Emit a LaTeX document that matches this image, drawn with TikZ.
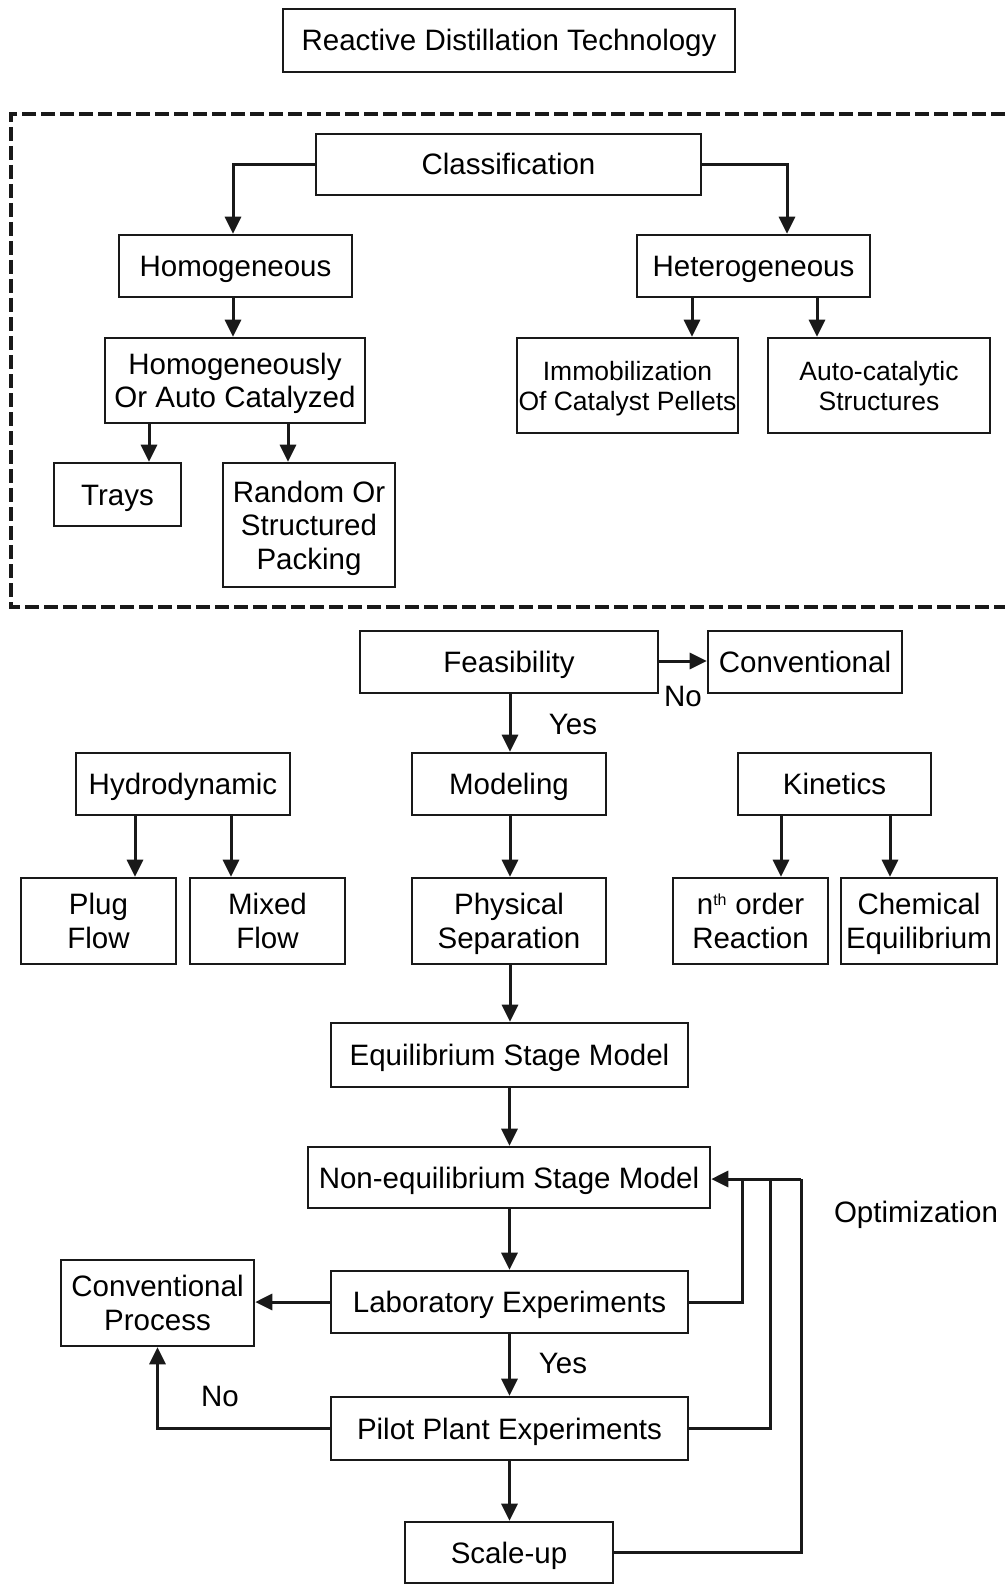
\documentclass[tikz,border=0pt]{standalone}
\usepackage{fontspec}
\setmainfont{Liberation Sans}
\usetikzlibrary{arrows.meta}
\tikzset{
  box/.style={draw=black!90, line width=2.6pt, inner sep=0pt, align=center,
    font=\fontsize{29.5}{33.5}\selectfont, fill=white, text height=21pt, text depth=0pt},
  two/.style={text height=54.5pt},
  three/.style={text height=88pt},
  smallbox/.style={box, font=\fontsize{26.5}{30}\selectfont, text height=49pt, text depth=0pt},
  conn/.style={line width=3pt, draw=black!90},
  arr/.style={conn, -{Triangle[length=17pt,width=16pt]}},
  lbl/.style={font=\fontsize{29.5}{33.5}\selectfont, inner sep=0pt, text height=21pt, text depth=0pt},
  frame/.style={line width=3.2pt, draw=black!90, dash pattern=on 14pt off 5pt}
}
\begin{document}
\begin{tikzpicture}[x=1pt,y=-1pt]
\useasboundingbox (0,0) rectangle (1005,1586);
\fill[white] (0,0) rectangle (1005,1586);
% dashed frame (open at right)
\draw[frame] (1005,114) -- (11,114) -- (11,607) -- (1005,607);
% nodes
\node[box, minimum width=452, minimum height=63] (title) at (509,40.5) {Reactive Distillation Technology};
\node[box, minimum width=385, minimum height=61] (cls) at (508.5,164.5) {Classification};
\node[box, minimum width=233, minimum height=62] (hom) at (235.5,266) {Homogeneous};
\node[box, minimum width=233, minimum height=62] (het) at (753.5,266) {Heterogeneous};
\node[box, two, minimum width=260, minimum height=85] (hoac) at (235,380.5) {Homogeneously\\Or Auto Catalyzed};
\node[smallbox, minimum width=221, minimum height=95] (imm) at (627.5,385.5) {Immobilization\\Of Catalyst Pellets};
\node[smallbox, minimum width=222, minimum height=95] (auto) at (879,385.5) {Auto-catalytic\\Structures};
\node[box, minimum width=127, minimum height=63] (trays) at (117.5,494.5) {Trays};
\node[box, three, minimum width=172, minimum height=124] (rand) at (309,525) {Random Or\\Structured\\Packing};
\node[box, minimum width=298, minimum height=62] (feas) at (509,662) {Feasibility};
\node[box, minimum width=194, minimum height=62] (conv) at (805,662) {Conventional};
\node[box, minimum width=214, minimum height=62] (hydro) at (183,784) {Hydrodynamic};
\node[box, minimum width=194, minimum height=62] (model) at (509,784) {Modeling};
\node[box, minimum width=193, minimum height=62] (kin) at (834.5,784) {Kinetics};
\node[box, two, minimum width=155, minimum height=86] (plug) at (98.5,921) {Plug\\Flow};
\node[box, two, minimum width=155, minimum height=86] (mixed) at (267.5,921) {Mixed\\Flow};
\node[box, two, minimum width=194, minimum height=86] (phys) at (509,921) {Physical\\Separation};
\node[box, two, minimum width=155, minimum height=86] (nth) at (750.5,921) {n\textsuperscript{\fontsize{16}{16}\selectfont th} order\\Reaction};
\node[box, two, minimum width=156, minimum height=86] (chem) at (919,921) {Chemical\\Equilibrium};
\node[box, minimum width=357, minimum height=64] (esm) at (509.5,1055) {Equilibrium Stage Model};
\node[box, minimum width=402, minimum height=61] (nesm) at (509,1177.5) {Non-equilibrium Stage Model};
\node[box, minimum width=357, minimum height=62] (lab) at (509.5,1302) {Laboratory Experiments};
\node[box, two, minimum width=193, minimum height=86] (cp) at (157.5,1303) {Conventional\\Process};
\node[box, minimum width=357, minimum height=63] (pilot) at (509.5,1428.5) {Pilot Plant Experiments};
\node[box, minimum width=208, minimum height=61] (scale) at (509,1552.5) {Scale-up};
% labels
\node[lbl] (no1) at (683,696) {No};
\node[lbl] (yes1) at (573,724) {Yes};
\node[lbl] (yes2) at (563,1363) {Yes};
\node[lbl] (no2) at (220,1396) {No};
\node[lbl] (opt) at (916,1212) {Optimization};
% classification arrows
\draw[arr] (cls.west |- 0,165) -| ([xshift=-2.5pt]hom.north);
\draw[arr] (cls.east |- 0,165) -| ([xshift=33.5pt]het.north);
\draw[arr] ([xshift=-2.5pt]hom.south) -- ([xshift=-2pt]hoac.north);
\draw[arr] (het.south -| 692,0) -- (imm.north -| 692,0);
\draw[arr] (het.south -| 817,0) -- (auto.north -| 817,0);
\draw[arr] (hoac.south -| 149,0) -- (trays.north -| 149,0);
\draw[arr] (hoac.south -| 288,0) -- (rand.north -| 288,0);
% feasibility
\draw[arr] (feas.east |- 0,661) -- (conv.west |- 0,661);
\draw[arr] ([xshift=1pt]feas.south) -- ([xshift=1pt]model.north);
\draw[arr] (hydro.south -| 135,0) -- (plug.north -| 135,0);
\draw[arr] (hydro.south -| 231,0) -- (mixed.north -| 231,0);
\draw[arr] (kin.south -| 781,0) -- (nth.north -| 781,0);
\draw[arr] (kin.south -| 890,0) -- (chem.north -| 890,0);
% main chain
\draw[arr] ([xshift=1pt]model.south) -- ([xshift=1pt]phys.north);
\draw[arr] ([xshift=1pt]phys.south) -- ([xshift=1pt]phys.south |- esm.north);
\draw[arr] (esm.south) -- (esm.south |- nesm.north);
\draw[arr] (nesm.south -| esm.south) -- (lab.north);
\draw[arr] (lab.south) -- (pilot.north);
\draw[arr] (pilot.south) -- (pilot.south |- scale.north);
% to conventional process
\draw[arr] (lab.west) -- (cp.east |- lab.west);
\draw[arr] (pilot.west) -| (cp.south);
% optimization feedback
\coordinate (fa) at (742,1179);
\coordinate (fb) at (770,1179);
\coordinate (fc) at (801,1179);
\draw[conn] (lab.east) -| (fa);
\draw[conn] (pilot.east) -| (fb);
\draw[conn] (scale.east) -| (fc);
\draw[arr] (fc) -- (nesm.east |- fc);
\end{tikzpicture}
\end{document}
